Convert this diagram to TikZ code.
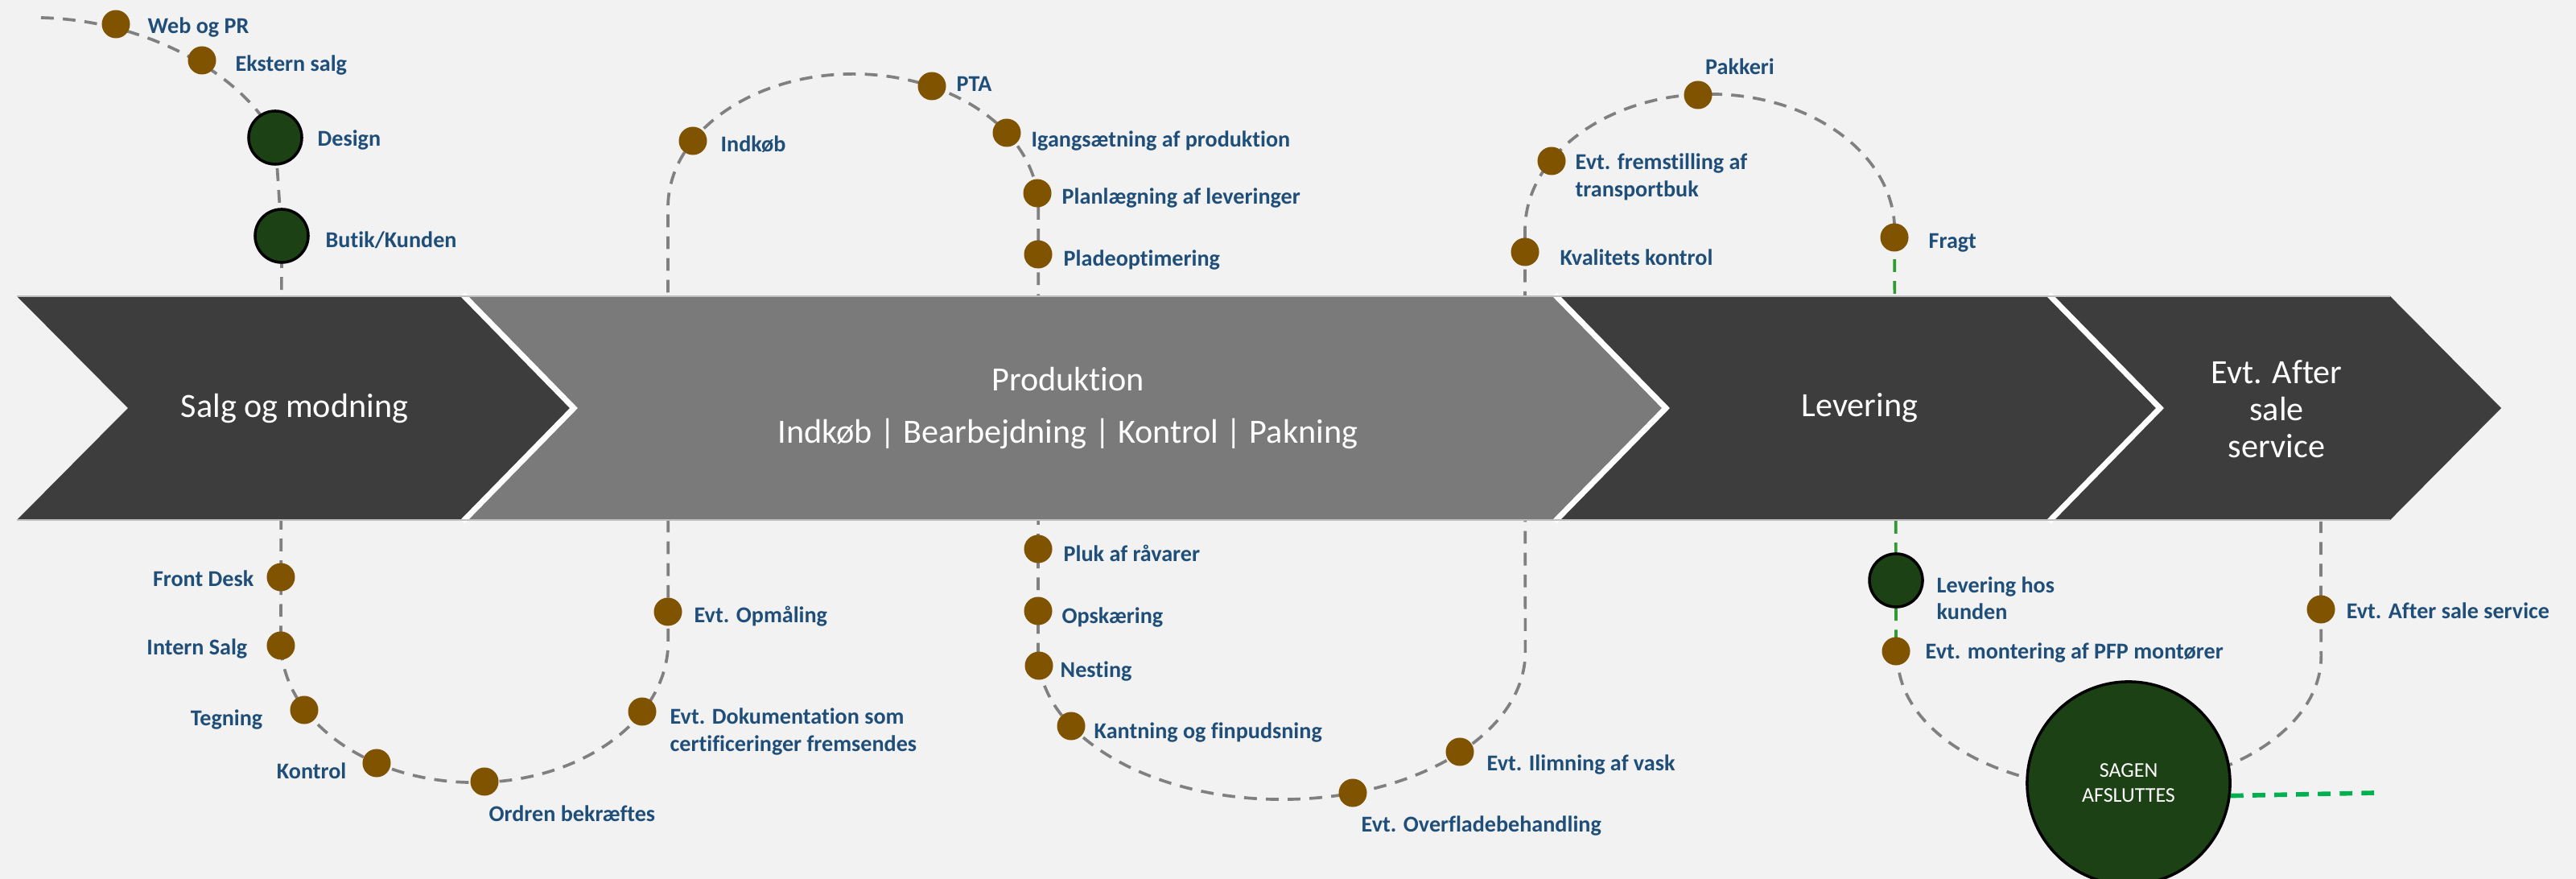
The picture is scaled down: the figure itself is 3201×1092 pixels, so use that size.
\documentclass[tikz,border=0pt]{standalone}
\usepackage{fontspec}
\setmainfont{Carlito}[RawFeature=-liga]
\definecolor{bgc}{HTML}{F2F2F2}
\definecolor{chevdark}{HTML}{3D3D3D}
\definecolor{chevmid}{HTML}{7A7A7A}
\definecolor{lblue}{HTML}{1F4E79}
\definecolor{brown}{HTML}{7F5300}
\definecolor{dgreen}{HTML}{1C4114}
\definecolor{mgreen}{HTML}{339933}
\definecolor{bgreen}{HTML}{00B050}
\definecolor{dashgray}{HTML}{808080}
\begin{document}
\begin{tikzpicture}[x=0.01cm,y=-0.01cm,
  gdash/.style={draw=dashgray,line width=1.05pt,dash pattern=on 4.5pt off 3.2pt},
  grdash/.style={draw=mgreen,line width=1.05pt,dash pattern=on 4.5pt off 3.2pt},
  bgdash/.style={draw=bgreen,line width=1.6pt,dash pattern=on 4.5pt off 3.2pt},
  sep/.style={draw=white,line width=2pt,line join=miter},
  ctext/.style={text=white,font=\fontsize{12}{13}\selectfont,align=center,inner sep=0pt},
  dot/.style={circle,fill=brown,minimum size=0.35cm,inner sep=0pt},
  gdot/.style={circle,fill=dgreen,draw=black,line width=1pt,minimum size=0.66cm,inner sep=0pt},
  lbl/.style={text=lblue,font=\bfseries\fontsize{8}{9.5}\selectfont,inner sep=0pt,align=left},
]
\useasboundingbox (0,0) rectangle (3201,1092);
\fill[bgc] (0,0) rectangle (3201,1092);

% positions of the stations
\coordinate (s0) at (51,22);
\coordinate (p-web) at (144,30);
\coordinate (p-ekst) at (251,75);
\coordinate (p-design) at (342,171);
\coordinate (p-butik) at (350,293);
\coordinate (p-front) at (349,717);
\coordinate (p-intern) at (349,802);
\coordinate (p-tegn) at (378,882);
\coordinate (p-kontrol) at (468,948);
\coordinate (p-ordren) at (602,971);
\coordinate (p-dok) at (798,884);
\coordinate (p-opm) at (830,760);
\coordinate (p-indkob) at (861,175);
\coordinate (p-pta) at (1158,107);
\coordinate (p-igang) at (1251,165);
\coordinate (p-plan) at (1289,240);
\coordinate (p-plade) at (1290,316);
\coordinate (p-pluk) at (1290,682);
\coordinate (p-opsk) at (1290,759);
\coordinate (p-nest) at (1291,827);
\coordinate (p-kant) at (1331,902);
\coordinate (p-overf) at (1681,985);
\coordinate (p-ilim) at (1814,934);
\coordinate (p-kval) at (1895,313);
\coordinate (p-fremst) at (1928,200);
\coordinate (p-pakk) at (2110,118);
\coordinate (p-fragt) at (2354,295);
\coordinate (p-levhos) at (2356,721);
\coordinate (p-mont) at (2356,809);
\coordinate (p-after) at (2884,757);
\coordinate (p-sagen) at (2645,973);
\coordinate (aftertop) at (2884,648);
\coordinate (gend) at (2950,985);

% dashed route
\draw[gdash] (s0) .. controls (180,25) and (300,90) .. (p-design)
  -- (p-butik) -- (349,797)
  arc[start angle=180,end angle=360,x radius=2.405cm,y radius=1.75cm]
  -- (830,258)
  arc[start angle=180,end angle=0,x radius=2.30cm,y radius=1.66cm]
  -- (1290,810)
  arc[start angle=180,end angle=360,x radius=3.025cm,y radius=1.83cm]
  -- (1895,286)
  arc[start angle=180,end angle=0,x radius=2.295cm,y radius=1.69cm]
  -- (p-fragt);
\draw[grdash] (p-fragt) -- (p-levhos) -- (p-mont);
\draw[gdash] (p-mont) -- (2358,815)
  arc[start angle=180,end angle=360,x radius=2.63cm,y radius=1.64cm]
  -- (p-after) -- (aftertop);

% chevrons
\fill[chevdark] (21,368) -- (575,368) -- (713,507) -- (575,646) -- (21,646) -- (159,507) -- cycle;
\fill[chevmid] (575,368) -- (1932,368) -- (2070,507) -- (1932,646) -- (575,646) -- (713,507) -- cycle;
\fill[chevdark] (1932,368) -- (2546,368) -- (2684,507) -- (2546,646) -- (1932,646) -- (2070,507) -- cycle;
\fill[chevdark] (2546,368) -- (2970,368) -- (3108,507) -- (2970,646) -- (2546,646) -- (2684,507) -- cycle;
\draw[sep] (575,366) -- (713,507) -- (575,648);
\draw[sep] (1932,366) -- (2070,507) -- (1932,648);
\draw[sep] (2546,366) -- (2684,507) -- (2546,648);
\draw[draw=black!25,line width=0.4pt] (21,368) -- (2970,368);
\draw[draw=black!25,line width=0.4pt] (21,646) -- (2970,646);

\node[ctext] (t-salg) at (366,507) {Salg og modning};
\node[ctext] (t-prod) at (1327,507) {Produktion\\[5.5pt]Indkøb | Bearbejdning | Kontrol | Pakning};
\node[ctext] (t-lev) at (2311,507) {Levering};
\node[ctext] (t-after) at (2829,508) {Evt. After\\sale\\service};

% closing circle
\node[circle,fill=dgreen,draw=black,line width=1pt,minimum size=2.52cm,inner sep=0pt,
  text=white,align=center,font=\fontsize{7.4}{8.8}\selectfont] (sagen) at (p-sagen) {SAGEN\\AFSLUTTES};
\draw[bgdash] (sagen.-7) -- (gend);

% stations
\node[dot] (web) at (p-web) {};
\node[dot] (ekst) at (p-ekst) {};
\node[gdot] (design) at (p-design) {};
\node[gdot] (butik) at (p-butik) {};
\node[dot] (front) at (p-front) {};
\node[dot] (intern) at (p-intern) {};
\node[dot] (tegn) at (p-tegn) {};
\node[dot] (kontrol) at (p-kontrol) {};
\node[dot] (ordren) at (p-ordren) {};
\node[dot] (dok) at (p-dok) {};
\node[dot] (opm) at (p-opm) {};
\node[dot] (indkob) at (p-indkob) {};
\node[dot] (pta) at (p-pta) {};
\node[dot] (igang) at (p-igang) {};
\node[dot] (plan) at (p-plan) {};
\node[dot] (plade) at (p-plade) {};
\node[dot] (pluk) at (p-pluk) {};
\node[dot] (opsk) at (p-opsk) {};
\node[dot] (nest) at (p-nest) {};
\node[dot] (kant) at (p-kant) {};
\node[dot] (overf) at (p-overf) {};
\node[dot] (ilim) at (p-ilim) {};
\node[dot] (kval) at (p-kval) {};
\node[dot] (fremst) at (p-fremst) {};
\node[dot] (pakk) at (p-pakk) {};
\node[dot] (fragt) at (p-fragt) {};
\node[gdot] (levhos) at (p-levhos) {};
\node[dot] (mont) at (p-mont) {};
\node[dot] (after) at (p-after) {};

% labels
\node[lbl,anchor=mid west] (l-web) at (183,33) {Web og PR};
\node[lbl,anchor=mid west] (l-ekst) at (292,80) {Ekstern salg};
\node[lbl,anchor=mid west] (l-design) at (394,173) {Design};
\node[lbl,anchor=mid west] (l-butik) at (404,299) {Butik/Kunden};
\node[lbl,anchor=mid east] (l-front) at (316,720) {Front Desk};
\node[lbl,anchor=mid east] (l-intern) at (308,805) {Intern Salg};
\node[lbl,anchor=mid east] (l-tegn) at (327,893) {Tegning};
\node[lbl,anchor=mid east] (l-kontrol) at (431,959) {Kontrol};
\node[lbl,anchor=mid west] (l-ordren) at (607,1012) {Ordren bekræftes};
\node[lbl,anchor=west] (l-dok) at (832,909) {Evt. Dokumentation som\\certificeringer fremsendes};
\node[lbl,anchor=mid west] (l-opm) at (862,765) {Evt. Opmåling};
\node[lbl,anchor=mid west] (l-indkob) at (895,180) {Indkøb};
\node[lbl,anchor=mid west] (l-pta) at (1188,105) {PTA};
\node[lbl,anchor=mid west] (l-igang) at (1281,174) {Igangsætning af produktion};
\node[lbl,anchor=mid west] (l-plan) at (1319,245) {Planlægning af leveringer};
\node[lbl,anchor=mid west] (l-plade) at (1321,322) {Pladeoptimering};
\node[lbl,anchor=mid west] (l-pluk) at (1321,689) {Pluk af råvarer};
\node[lbl,anchor=mid west] (l-opsk) at (1319,766) {Opskæring};
\node[lbl,anchor=mid west] (l-nest) at (1317,833) {Nesting};
\node[lbl,anchor=mid west] (l-kant) at (1359,909) {Kantning og finpudsning};
\node[lbl,anchor=mid west] (l-overf) at (1691,1025) {Evt. Overfladebehandling};
\node[lbl,anchor=mid west] (l-ilim) at (1847,949) {Evt. Ilimning af vask};
\node[lbl,anchor=mid west] (l-kval) at (1938,321) {Kvalitets kontrol};
\node[lbl,anchor=west] (l-fremst) at (1957,220) {Evt. fremstilling af\\transportbuk};
\node[lbl,anchor=mid] (l-pakk) at (2162,84) {Pakkeri};
\node[lbl,anchor=mid west] (l-fragt) at (2396,300) {Fragt};
\node[lbl,anchor=west] (l-levhos) at (2406,743) {Levering hos\\kunden};
\node[lbl,anchor=mid west] (l-mont) at (2392,810) {Evt. montering af PFP montører};
\node[lbl,anchor=mid west] (l-after) at (2915,760) {Evt. After sale service};
\end{tikzpicture}
\end{document}
